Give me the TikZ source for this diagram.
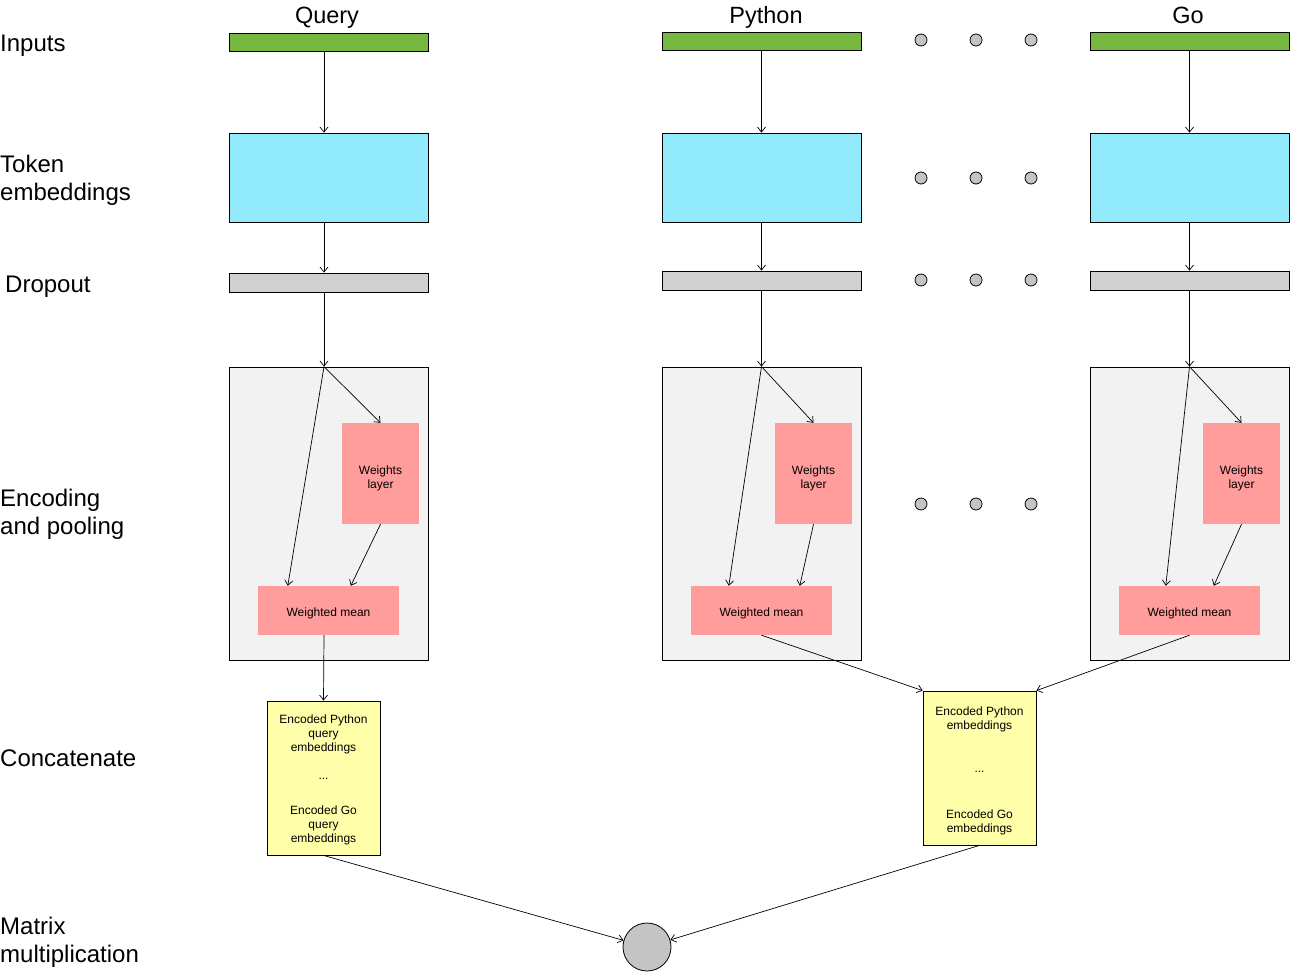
\documentclass[tikz,border=0pt]{standalone}
\usepackage{fontspec}
\setmainfont{Liberation Sans}
\usepackage{tikz}
\usetikzlibrary{calc,arrows.meta}

\definecolor{inputgreen}{HTML}{76B83F}
\definecolor{tokencyan}{HTML}{91EBFC}
\definecolor{dropgray}{HTML}{D0D0D0}
\definecolor{poolgray}{HTML}{F2F2F2}
\definecolor{weightpink}{HTML}{FF9C9C}
\definecolor{encyellow}{HTML}{FFFFAA}
\definecolor{dotgray}{HTML}{C4C4C4}

\tikzset{
  rowlabel/.style={anchor=west, inner sep=0pt, align=left, font=\fontsize{24}{28}\selectfont},
  coltitle/.style={anchor=base, inner sep=0pt, font=\fontsize{23.5}{26}\selectfont},
  inbar/.style={draw, line width=0.8pt, fill=inputgreen, minimum width=199pt, minimum height=18pt, inner sep=0pt},
  tokbox/.style={draw, line width=0.8pt, fill=tokencyan, minimum width=199pt, minimum height=89pt, inner sep=0pt},
  dropbar/.style={draw, line width=0.8pt, fill=dropgray, minimum width=199pt, minimum height=19pt, inner sep=0pt},
  poolbox/.style={draw, line width=0.8pt, fill=poolgray, minimum width=199pt, minimum height=293pt, inner sep=0pt},
  wtbox/.style={fill=weightpink, minimum width=77pt, minimum height=101pt, inner sep=0pt, align=center, font=\fontsize{12}{14}\selectfont},
  meanbox/.style={fill=weightpink, minimum width=141pt, minimum height=49pt, inner sep=0pt, font=\fontsize{12}{14}\selectfont},
  encbox/.style={draw, line width=0.8pt, fill=encyellow, minimum width=113pt, minimum height=154pt, inner sep=0pt, align=center, font=\fontsize{12}{14}\selectfont},
  dotnode/.style={circle, draw, line width=0.8pt, fill=dotgray, minimum size=12pt, inner sep=0pt},
  link/.style={-{Straight Barb[length=5pt,width=8pt]}, line width=0.7pt},
}

\begin{document}
\begin{tikzpicture}[x=1pt, y=-1pt]
\useasboundingbox (0,0) rectangle (1290,972);

% row labels
\node[rowlabel] (linputs) at (0,46) {Inputs};
\node[rowlabel] (ltoken) at (0,180) {Token\\embeddings};
\node[rowlabel] (ldrop) at (5,287) {Dropout};
\node[rowlabel] (lpool) at (0,514) {Encoding\\and pooling};
\node[rowlabel] (lconcat) at (0,758) {Concatenate};
\node[rowlabel] (lmatmul) at (0,942) {Matrix\\multiplication};

% query column
\node[coltitle] (qtitle) at (327,23) {Query};
\node[inbar] (qin) at (328.5,42.5) {};
\node[tokbox] (qtok) at (328.5,177.5) {};
\node[dropbar] (qdrop) at (328.5,282.5) {};
\node[poolbox] (qpool) at (328.5,513.5) {};
\node[wtbox] (qwt) at (380.5,473.5) {\rule{0pt}{19pt}Weights\\layer};
\node[meanbox] (qmean) at (328.5,610.5) {\rule{0pt}{15pt}Weighted mean};
\node[encbox] (qenc) at (323.5,778) {\rule{0pt}{13pt}Encoded Python\\query\\embeddings\\[14pt]...\\[21pt]Encoded Go\\query\\embeddings};

% python column
\node[coltitle] (ptitle) at (766,23) {Python};
\node[inbar] (pin) at (761.5,41) {};
\node[tokbox] (ptok) at (761.5,177.5) {};
\node[dropbar] (pdrop) at (761.5,280.5) {};
\node[poolbox] (ppool) at (761.5,513.5) {};
\node[wtbox] (pwt) at (813.5,473.5) {\rule{0pt}{19pt}Weights\\layer};
\node[meanbox] (pmean) at (761.5,610.5) {\rule{0pt}{15pt}Weighted mean};

% go column
\node[coltitle] (gtitle) at (1188,23) {Go};
\node[inbar] (gin) at (1189.5,41) {};
\node[tokbox] (gtok) at (1189.5,177.5) {};
\node[dropbar] (gdrop) at (1189.5,280.5) {};
\node[poolbox] (gpool) at (1189.5,513.5) {};
\node[wtbox] (gwt) at (1241.5,473.5) {\rule{0pt}{19pt}Weights\\layer};
\node[meanbox] (gmean) at (1189.5,610.5) {\rule{0pt}{15pt}Weighted mean};

\node[encbox] (cenc) at (979.5,768) {\rule{0pt}{15pt}Encoded Python\\embeddings\\[29pt]...\\[32pt]Encoded Go\\embeddings};
\node[dotnode, minimum size=48pt] (matmul) at (647,947) {};

% dots between columns
\foreach \y in {40,178,280,504}
  \foreach \x in {921,976,1031}
    \node[dotnode] (dot-\x-\y) at (\x,\y) {};

% query links
\coordinate (qaxis) at (324,0);
\coordinate (qsplit) at (qpool.north -| qaxis);
\draw[link] (qin.south -| qaxis) -- (qtok.north -| qaxis);
\draw[link] (qtok.south -| qaxis) -- (qdrop.north -| qaxis);
\draw[link] (qdrop.south -| qaxis) -- (qsplit);
\draw[link] (qsplit) -- (qwt.north);
\draw[link] (qsplit) -- ($(qmean.north west)+(30,0)$);
\draw[link] (qwt.south) -- ($(qmean.north west)+(93,0)$);
\draw[link] (qmean.south -| qaxis) -- (qenc.north);

% python links
\coordinate (psplit) at (ppool.north);
\draw[link] (pin.south) -- (ptok.north);
\draw[link] (ptok.south) -- (pdrop.north);
\draw[link] (pdrop.south) -- (psplit);
\draw[link] (psplit) -- (pwt.north);
\draw[link] (psplit) -- ($(pmean.north west)+(38,0)$);
\draw[link] (pwt.south) -- ($(pmean.north west)+(109,0)$);
\draw[link] (pmean.south) -- (cenc.north west);

% go links
\coordinate (gsplit) at (gpool.north);
\draw[link] (gin.south) -- (gtok.north);
\draw[link] (gtok.south) -- (gdrop.north);
\draw[link] (gdrop.south) -- (gsplit);
\draw[link] (gsplit) -- (gwt.north);
\draw[link] (gsplit) -- ($(gmean.north west)+(47,0)$);
\draw[link] (gwt.south) -- ($(gmean.north west)+(95,0)$);
\draw[link] (gmean.south) -- (cenc.north east);

% to the product
\draw[link] (qenc.south) -- (matmul);
\draw[link] (cenc.south) -- (matmul);
\end{tikzpicture}
\end{document}
